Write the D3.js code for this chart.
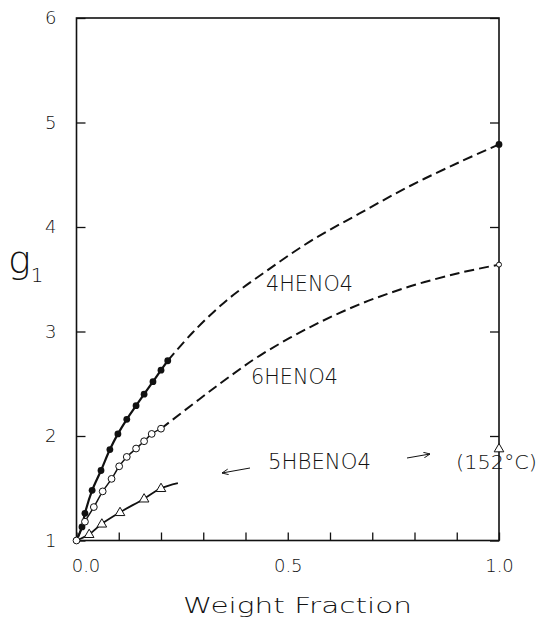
<!DOCTYPE html>
<html>
<head>
<meta charset="utf-8">
<script src="https://cdn.jsdelivr.net/npm/d3@7"></script>
<style>
  body { margin: 0; background: #fff; }
  text { font-family: "DejaVu Sans", "Liberation Sans", sans-serif; font-weight: 200; fill: #111; }
</style>
</head>
<body>
<script>
// 4HENO4 (filled circles)
var x4 = [0, 0.013, 0.02, 0.037, 0.058, 0.079, 0.098, 0.119, 0.141, 0.16, 0.181, 0.2, 0.216];
var y4 = [1.0, 1.13, 1.26, 1.48, 1.67, 1.87, 2.02, 2.16, 2.29, 2.40, 2.52, 2.63, 2.72];
var x4dash = [0.216, 0.275, 0.356, 0.45, 0.552, 0.67, 0.788, 0.906, 1.0];
var y4dash = [2.72, 2.99, 3.30, 3.58, 3.86, 4.13, 4.39, 4.62, 4.79];
var x4end = [1.0], y4end = [4.79];

// 6HENO4 (open circles)
var x6 = [0, 0.02, 0.041, 0.062, 0.083, 0.101, 0.119, 0.141, 0.16, 0.178, 0.2];
var y6 = [1.0, 1.18, 1.32, 1.47, 1.59, 1.71, 1.80, 1.88, 1.95, 2.02, 2.07];
var x6dash = [0.2, 0.29, 0.356, 0.434, 0.552, 0.67, 0.788, 0.906, 1.0];
var y6dash = [2.07, 2.35, 2.55, 2.77, 3.04, 3.26, 3.43, 3.56, 3.64];
var x6end = [1.0], y6end = [3.64];

// 5HBENO4 (triangles)
var x5 = [0.03, 0.06, 0.103, 0.16, 0.2];
var y5 = [1.06, 1.16, 1.27, 1.40, 1.50];
var x5line = [0, 0.03, 0.06, 0.103, 0.16, 0.2, 0.24];
var y5line = [1.0, 1.06, 1.16, 1.27, 1.40, 1.50, 1.55];
var x5end = [1.0], y5end = [1.88];

var xTicks = [0, 0.1, 0.2, 0.3, 0.4, 0.5, 0.6, 0.7, 0.8, 0.9, 1.0];
var xTickLabels = ["0.0", "", "", "", "", "0.5", "", "", "", "", "1.0"];
var yTicks = [1, 2, 3, 4, 5, 6];

var W = 543, H = 619;
var svg = d3.select("body").append("svg").attr("width", W).attr("height", H);

var x = d3.scaleLinear().domain([0, 1]).range([76.5, 499]);
var y = d3.scaleLinear().domain([1, 6]).range([540.5, 18]);

function pts(xs, ys) { return xs.map(function(v, i) { return [v, ys[i]]; }); }
var line = d3.line().x(function(d) { return x(d[0]); }).y(function(d) { return y(d[1]); })
             .curve(d3.curveCatmullRom.alpha(0.5));

// frame
svg.append("rect")
   .attr("x", x(0)).attr("y", y(6))
   .attr("width", x(1) - x(0)).attr("height", y(1) - y(6))
   .attr("fill", "none").attr("stroke", "#111").attr("stroke-width", 1.6);

// axes, ticks pointing inward
var xAxis = svg.append("g").attr("transform", "translate(0," + y(1) + ")")
   .call(d3.axisBottom(x).tickValues(xTicks).tickSizeInner(-8).tickSizeOuter(0).tickPadding(19)
     .tickFormat(function(d, i) { return xTickLabels[i]; }));
var yAxis = svg.append("g").attr("transform", "translate(" + x(0) + ",0)")
   .call(d3.axisLeft(y).tickValues(yTicks).tickSizeInner(-9).tickSizeOuter(0).tickPadding(20)
     .tickFormat(d3.format("d")));
var yAxisR = svg.append("g").attr("transform", "translate(" + x(1) + ",0)")
   .call(d3.axisRight(y).tickValues(yTicks).tickSizeInner(-9).tickSizeOuter(0).tickFormat(""));

[xAxis, yAxis, yAxisR].forEach(function(a) {
  a.select(".domain").remove();
  a.selectAll("line").attr("stroke", "#111").attr("stroke-width", 1.3);
  a.selectAll("text").attr("font-size", 18).attr("fill", "#111")
   .style("font-family", "DejaVu Sans, sans-serif").style("font-weight", 200);
});
xAxis.selectAll(".tick text").attr("dx", function(d, i) { return i === 0 ? 9 : 0; });

// curves
svg.append("path").datum(pts(x4, y4)).attr("d", line)
   .attr("fill", "none").attr("stroke", "#111").attr("stroke-width", 2.2);
svg.append("path").datum(pts(x4dash, y4dash)).attr("d", line)
   .attr("fill", "none").attr("stroke", "#111").attr("stroke-width", 2)
   .attr("stroke-dasharray", "10,5");
svg.append("path").datum(pts(x6, y6)).attr("d", line)
   .attr("fill", "none").attr("stroke", "#111").attr("stroke-width", 1.5);
svg.append("path").datum(pts(x6dash, y6dash)).attr("d", line)
   .attr("fill", "none").attr("stroke", "#111").attr("stroke-width", 2)
   .attr("stroke-dasharray", "10,5");
svg.append("path").datum(pts(x5line, y5line)).attr("d", line)
   .attr("fill", "none").attr("stroke", "#111").attr("stroke-width", 1.8);

// markers
svg.selectAll(".f4").data(pts(x4.slice(1), y4.slice(1)).concat(pts(x4end, y4end))).enter()
   .append("circle").attr("cx", function(d) { return x(d[0]); }).attr("cy", function(d) { return y(d[1]); })
   .attr("r", 3.4).attr("fill", "#111");
svg.selectAll(".o6").data(pts(x6, y6)).enter()
   .append("circle").attr("cx", function(d) { return x(d[0]); }).attr("cy", function(d) { return y(d[1]); })
   .attr("r", 3.4).attr("fill", "#fff").attr("stroke", "#111").attr("stroke-width", 1);
svg.selectAll(".o6e").data(pts(x6end, y6end)).enter()
   .append("circle").attr("cx", function(d) { return x(d[0]); }).attr("cy", function(d) { return y(d[1]); })
   .attr("r", 2.5).attr("fill", "#fff").attr("stroke", "#111").attr("stroke-width", 1);
var tri = d3.symbol().type(d3.symbolTriangle).size(40);
svg.selectAll(".t5").data(pts(x5, y5).concat(pts(x5end, y5end))).enter()
   .append("path").attr("d", tri)
   .attr("transform", function(d) { return "translate(" + x(d[0]) + "," + (y(d[1]) + 0.5) + ")"; })
   .attr("fill", "#fff").attr("stroke", "#111").attr("stroke-width", 1);

// labels
function label(t, x0, yb, w, fs) {
  return svg.append("text").attr("x", x0).attr("y", yb).attr("font-size", fs)
    .attr("textLength", w).attr("lengthAdjust", "spacingAndGlyphs").text(t);
}
label("4HENO4", 266, 291, 87, 21);
label("6HENO4", 251, 384, 87, 21);
label("5HBENO4", 268, 469, 103, 21);
label("(152\u00b0C)", 456, 469, 81, 20);
label("Weight  Fraction", 183, 613, 229, 21);

var g1 = svg.append("text").attr("x", 8).attr("y", 273).attr("font-size", 38);
g1.append("tspan").text("g");
g1.append("tspan").attr("font-size", 20).attr("dy", 9).text("1");

// arrows
svg.append("defs").append("marker").attr("id", "ah")
   .attr("viewBox", "0 0 10 10").attr("refX", 9).attr("refY", 5)
   .attr("markerWidth", 7).attr("markerHeight", 7).attr("orient", "auto")
   .append("path").attr("d", "M0,1 L9,5 L0,9").attr("fill", "none").attr("stroke", "#111").attr("stroke-width", 1.3);
svg.append("line").attr("x1", 250).attr("y1", 468).attr("x2", 222).attr("y2", 473)
   .attr("stroke", "#111").attr("stroke-width", 1).attr("marker-end", "url(#ah)");
svg.append("line").attr("x1", 407).attr("y1", 458).attr("x2", 430).attr("y2", 454)
   .attr("stroke", "#111").attr("stroke-width", 1).attr("marker-end", "url(#ah)");
</script>
</body>
</html>
